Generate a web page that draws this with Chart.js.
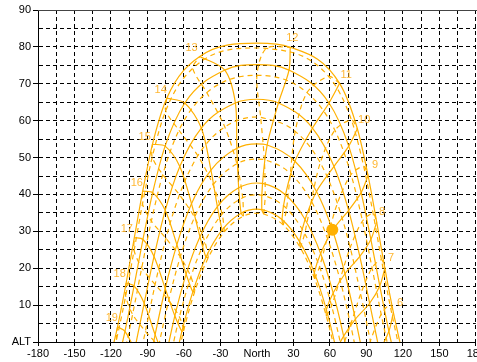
<!DOCTYPE html>
<html>
<head>
<meta charset="utf-8">
<script src="https://cdn.jsdelivr.net/npm/chart.js@4"></script>
<style>
  html, body { margin: 0; padding: 0; background: #fff; overflow: hidden; }
  #wrap { position: relative; width: 486px; height: 362px; }
</style>
</head>
<body>
<div id="wrap"><canvas id="sunChart"></canvas></div>
<script>
// clock hours of the path points (index 0 = 5:00 ... 15 = 20:00)
var hours = [5, 6, 7, 8, 9, 10, 11, 12, 13, 14, 15, 16, 17, 18, 19, 20];
var months = ['Jan', 'Feb', 'Mar', 'Apr', 'May', 'Jun', 'Jul', 'Aug', 'Sep', 'Oct', 'Nov', 'Dec'];

// azimuth (deg from north, east +) and altitude per month, 1st of each month
var azJan = [119.9, 112.2, 105.2, 98.5, 91.4, 82.6, 68.0, 27.4, -47.0, -74.1, -85.9, -93.9, -100.8, -107.5, -114.6, -122.8];
var altJan = [-3.4, 8.0, 20.0, 32.5, 45.1, 57.8, 70.1, 79.9, 77.4, 66.1, 53.6, 40.9, 28.3, 16.0, 4.1, -7.1];
var azFeb = [116.7, 108.5, 101.0, 93.7, 85.7, 75.5, 59.3, 26.4, -26.4, -59.3, -75.5, -85.7, -93.7, -101.0, -108.5, -116.7];
var altFeb = [-8.8, 2.9, 15.2, 27.8, 40.5, 53.1, 64.8, 73.7, 73.7, 64.8, 53.1, 40.5, 27.8, 15.2, 2.9, -8.8];
var azMar = [null, 100.6, 92.7, 84.6, 75.4, 63.4, 45.7, 17.7, -17.7, -45.7, -63.4, -75.4, -84.6, -92.7, -100.6, null];
var altMar = [null, -2.2, 10.5, 23.2, 35.7, 47.6, 58.0, 64.8, 64.8, 58.0, 47.6, 35.7, 23.2, 10.5, -2.2, null];
var azApr = [null, 89.0, 81.0, 72.4, 62.2, 49.0, 31.3, 8.4, -16.5, -37.8, -53.8, -65.8, -75.4, -83.7, -91.6, null];
var altApr = [null, -6.5, 6.2, 18.5, 30.3, 40.8, 49.0, 53.4, 52.5, 46.6, 37.5, 26.4, 14.5, 2.0, -10.8, null];
var azMay = [null, 79.0, 71.3, 62.7, 52.4, 39.6, 23.5, 4.6, -15.0, -32.5, -46.8, -58.2, -67.5, -75.5, null, null];
var altMay = [null, -10.7, 1.6, 13.3, 24.0, 33.2, 39.9, 43.0, 41.8, 36.7, 28.5, 18.4, 7.1, -4.9, null, null];
var azJun = [null, 72.7, 65.4, 57.1, 47.2, 35.1, 20.6, 4.0, -13.0, -28.6, -41.9, -52.7, -61.7, -69.4, null, null];
var altJun = [null, -14.3, -2.4, 8.8, 18.8, 27.2, 33.2, 35.9, 34.9, 30.4, 23.0, 13.6, 2.9, -8.7, null, null];
var azJul = [null, 72.4, 65.3, 57.1, 47.5, 35.8, 21.7, 5.6, -11.1, -26.7, -39.9, -50.9, -60.0, -67.7, null, null];
var altJul = [null, -16.0, -4.2, 7.0, 17.1, 25.5, 31.7, 34.7, 34.1, 29.9, 22.9, 13.9, 3.4, -8.0, null, null];
var azAug = [null, 77.2, 69.7, 61.4, 51.5, 39.3, 24.4, 6.8, -11.7, -28.6, -42.8, -54.3, -63.7, -71.8, null, null];
var altAug = [null, -14.0, -1.8, 9.8, 20.4, 29.4, 36.2, 39.6, 39.1, 34.7, 27.2, 17.7, 6.8, -5.0, null, null];
var azSep = [null, 84.9, 77.0, 68.3, 57.9, 44.7, 27.5, 6.1, -16.5, -36.1, -51.3, -63.0, -72.5, -80.8, -88.6, null];
var altSep = [null, -7.8, 4.7, 16.9, 28.2, 38.2, 45.7, 49.4, 48.3, 42.6, 33.8, 23.1, 11.3, -1.1, -13.7, null];
var azOct = [101.5, 93.3, 85.3, 76.7, 66.2, 52.1, 31.5, 3.1, -26.4, -48.6, -63.7, -74.8, -83.7, -91.7, -99.8, null];
var altOct = [-12.3, 0.3, 13.0, 25.6, 37.6, 48.6, 57.1, 60.9, 58.3, 50.5, 39.9, 28.1, 15.6, 2.9, -9.8, null];
var azNov = [110.1, 102.2, 94.7, 86.8, 77.4, 64.1, 41.2, 0.0, -41.2, -64.1, -77.4, -86.8, -94.7, -102.2, -110.1, null];
var altNov = [-4.7, 7.5, 20.1, 32.8, 45.4, 57.4, 67.6, 72.3, 67.6, 57.4, 45.4, 32.8, 20.1, 7.5, -4.7, null];
var azDec = [117.0, 109.4, 102.4, 95.5, 87.8, 77.7, 59.0, 7.7, -52.7, -75.0, -86.1, -94.1, -101.0, -107.9, -115.4, -123.9];
var altDec = [-1.6, 10.1, 22.3, 34.9, 47.6, 60.2, 72.0, 79.6, 74.2, 62.7, 50.1, 37.4, 24.8, 12.5, 0.7, -10.4];

// highest altitude of each date (sun due north)
var noonAlt = [81.0, 75.2, 65.8, 53.7, 43.1, 36.0, 34.9, 39.9, 49.6, 61.0, 72.3, 79.7];

// hour labels
var labelHours = ['6', '7', '8', '9', '10', '11', '12', '13', '14', '15', '16', '17', '18', '19'];
var labelAz = [117.7, 110.3, 102.9, 97.2, 88.2, 73.4, 29.1, -53.7, -79.1, -92.3, -98.8, -107.0, -112.8, -119.3];
var labelAlt = [10.6, 22.8, 35.2, 48.0, 60.2, 72.4, 82.4, 79.7, 68.3, 55.6, 43.1, 30.6, 18.4, 6.5];

// current sun position
var sunAz = [62.0];
var sunAlt = [30.4];

var allAz = [azJan, azFeb, azMar, azApr, azMay, azJun, azJul, azAug, azSep, azOct, azNov, azDec];
var allAlt = [altJan, altFeb, altMar, altApr, altMay, altJun, altJul, altAug, altSep, altOct, altNov, altDec];

var orange = '#ffb000';
var datasets = [];

// date lines: Jan-Jun solid, Jul-Dec dashed
for (var m = 0; m < 12; m++) {
    var pts = [];
    for (var i = 0; i < hours.length; i++) {
        if (allAz[m][i] === null) continue;
        pts.push({ x: allAz[m][i], y: allAlt[m][i] });
        if (hours[i] === 12 && allAz[m][i] !== 0) {
            pts.push({ x: 0, y: noonAlt[m] });
        }
    }
    datasets.push({
        label: months[m],
        data: pts,
        showLine: true,
        borderColor: orange,
        borderWidth: 1.2,
        borderDash: m < 6 ? [] : [5, 4],
        pointRadius: 0,
        cubicInterpolationMode: 'monotone'
    });
}

// hour lines (analemma halves)
for (var h = 1; h <= 14; h++) {
    var solid = [];
    var dashed = [];
    for (var k = 0; k <= 6; k++) {
        if (allAz[k][h] !== null) solid.push({ x: allAz[k][h], y: allAlt[k][h] });
    }
    for (var k2 = 6; k2 <= 12; k2++) {
        var mm = k2 % 12;
        if (allAz[mm][h] !== null) dashed.push({ x: allAz[mm][h], y: allAlt[mm][h] });
    }
    datasets.push({ data: solid, showLine: true, borderColor: orange, borderWidth: 1.2, pointRadius: 0, tension: 0.3 });
    datasets.push({ data: dashed, showLine: true, borderColor: orange, borderWidth: 1.2, borderDash: [5, 4], pointRadius: 0, tension: 0.3 });
}

datasets.push({
    data: [{ x: sunAz[0], y: sunAlt[0] }],
    pointRadius: 6,
    pointBackgroundColor: orange,
    pointBorderWidth: 0
});

var hourLabels = {
    id: 'hourLabels',
    beforeDatasetsDraw: function(chart) {
        var ctx = chart.ctx;
        var area = chart.chartArea;
        ctx.save();
        ctx.strokeStyle = '#444';
        ctx.lineWidth = 1;
        ctx.beginPath();
        ctx.moveTo(area.left, area.top + 0.5);
        ctx.lineTo(area.right + 20, area.top + 0.5);
        ctx.stroke();
        ctx.restore();
    },
    afterDatasetsDraw: function(chart) {
        var ctx = chart.ctx;
        var xs = chart.scales.x;
        var ys = chart.scales.y;
        ctx.save();
        ctx.fillStyle = '#ffb733';
        ctx.font = '11px Arial, "Liberation Sans", sans-serif';
        ctx.textAlign = 'center';
        ctx.textBaseline = 'middle';
        for (var i = 0; i < labelHours.length; i++) {
            ctx.fillText(labelHours[i], xs.getPixelForValue(labelAz[i]), ys.getPixelForValue(labelAlt[i]));
        }
        ctx.restore();
    }
};

var tickFont = { family: 'Arial, "Liberation Sans", sans-serif', size: 11 };

new Chart(document.getElementById('sunChart'), {
    type: 'scatter',
    data: { datasets: datasets },
    options: {
        responsive: true,
        maintainAspectRatio: false,
        animation: false,
        layout: { padding: { top: 10, left: 0, right: 0, bottom: 0 } },
        plugins: { legend: { display: false }, tooltip: { enabled: false } },
        scales: {
            x: {
                type: 'linear',
                min: -180,
                max: 180,
                afterFit: function(scale) { scale.height = 20; },
                ticks: {
                    stepSize: 15,
                    autoSkip: false,
                    maxRotation: 0,
                    padding: 1,
                    color: '#000',
                    font: tickFont,
                    callback: function(v) {
                        if (v === 0) return 'North';
                        return v % 30 === 0 ? String(v) : '';
                    }
                },
                grid: {
                    color: '#000',
                    lineWidth: 1,
                    tickLength: 4,
                    tickColor: function(c) { return c.tick && c.tick.value % 30 === 0 ? '#000' : 'rgba(0,0,0,0)'; }
                },
                border: { color: '#000', width: 1, dash: [4, 3] }
            },
            y: {
                type: 'linear',
                min: 0,
                max: 90,
                afterFit: function(scale) { scale.width = 38; },
                ticks: {
                    stepSize: 5,
                    autoSkip: false,
                    padding: 2,
                    color: '#000',
                    font: tickFont,
                    callback: function(v) {
                        if (v === 0) return 'ALT';
                        return v % 10 === 0 ? String(v) : '';
                    }
                },
                grid: {
                    color: '#000',
                    lineWidth: 1,
                    tickLength: 5,
                    tickColor: function(c) { return c.tick && c.tick.value % 10 === 0 ? '#000' : 'rgba(0,0,0,0)'; }
                },
                border: { color: '#000', width: 1, dash: [4, 3] }
            }
        }
    },
    plugins: [hourLabels]
});
</script>
</body>
</html>
